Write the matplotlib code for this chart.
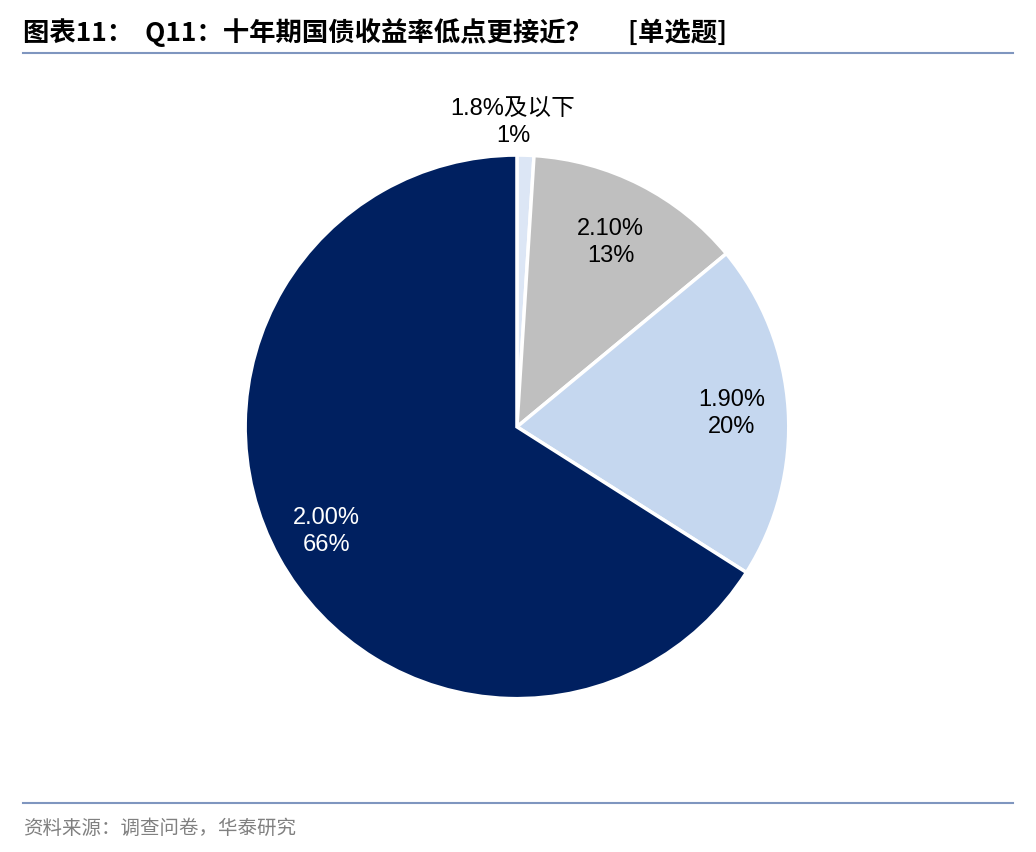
import matplotlib
matplotlib.use("Agg")
import matplotlib.pyplot as plt
import numpy as np

plt.rcParams['font.family'] = ['Liberation Sans', 'Noto Sans CJK SC', 'DejaVu Sans']

categories = ['1.8%及以下', '2.10%', '1.90%', '2.00%']
values = [1, 13, 20, 66]
colors = ['#DCE6F5', '#BFBFBF', '#C5D7EF', '#002060']
text_colors = ['black', 'black', 'black', 'white']
label_dist = [1.12, 0.76, 0.79, 0.80]

fig = plt.figure(figsize=(10.36, 8.52), dpi=100)
ax = fig.add_axes([0.499 - 0.2625, 0.499 - 0.319, 0.525, 0.638])
wedges, _ = ax.pie(values, colors=colors, startangle=90, counterclock=False,
                   wedgeprops=dict(edgecolor='white', linewidth=2.5))
ax.set_aspect('equal')
ax.set_xlim(-1, 1); ax.set_ylim(-1, 1)
for w, cat, v, tc, d in zip(wedges, categories, values, text_colors, label_dist):
    ang = np.deg2rad((w.theta1 + w.theta2) / 2)
    x, y = d * np.cos(ang), d * np.sin(ang)
    if d > 1:
        x -= 0.05
    ax.text(x, y, f"{cat}\n{v}%", ha='center', va='center', fontsize=17,
            color=tc, linespacing=1.3)

fig.text(0.022, 0.962, '图表11：  Q11：十年期国债收益率低点更接近？      [单选题]',
         fontsize=19, fontweight='bold', family=['Noto Sans CJK SC', 'DejaVu Sans'],
         va='center', ha='left')
fig.add_artist(plt.Line2D([0.022, 0.978], [0.938, 0.938], color='#7F96BF', lw=1.5))
fig.add_artist(plt.Line2D([0.022, 0.978], [0.058, 0.058], color='#7F96BF', lw=1.5))
fig.text(0.022, 0.028, '资料来源：调查问卷，华泰研究', fontsize=14, color='#808080',
         family=['Noto Sans CJK SC', 'DejaVu Sans'], va='center', ha='left')

fig.savefig('out.png', dpi=100)
